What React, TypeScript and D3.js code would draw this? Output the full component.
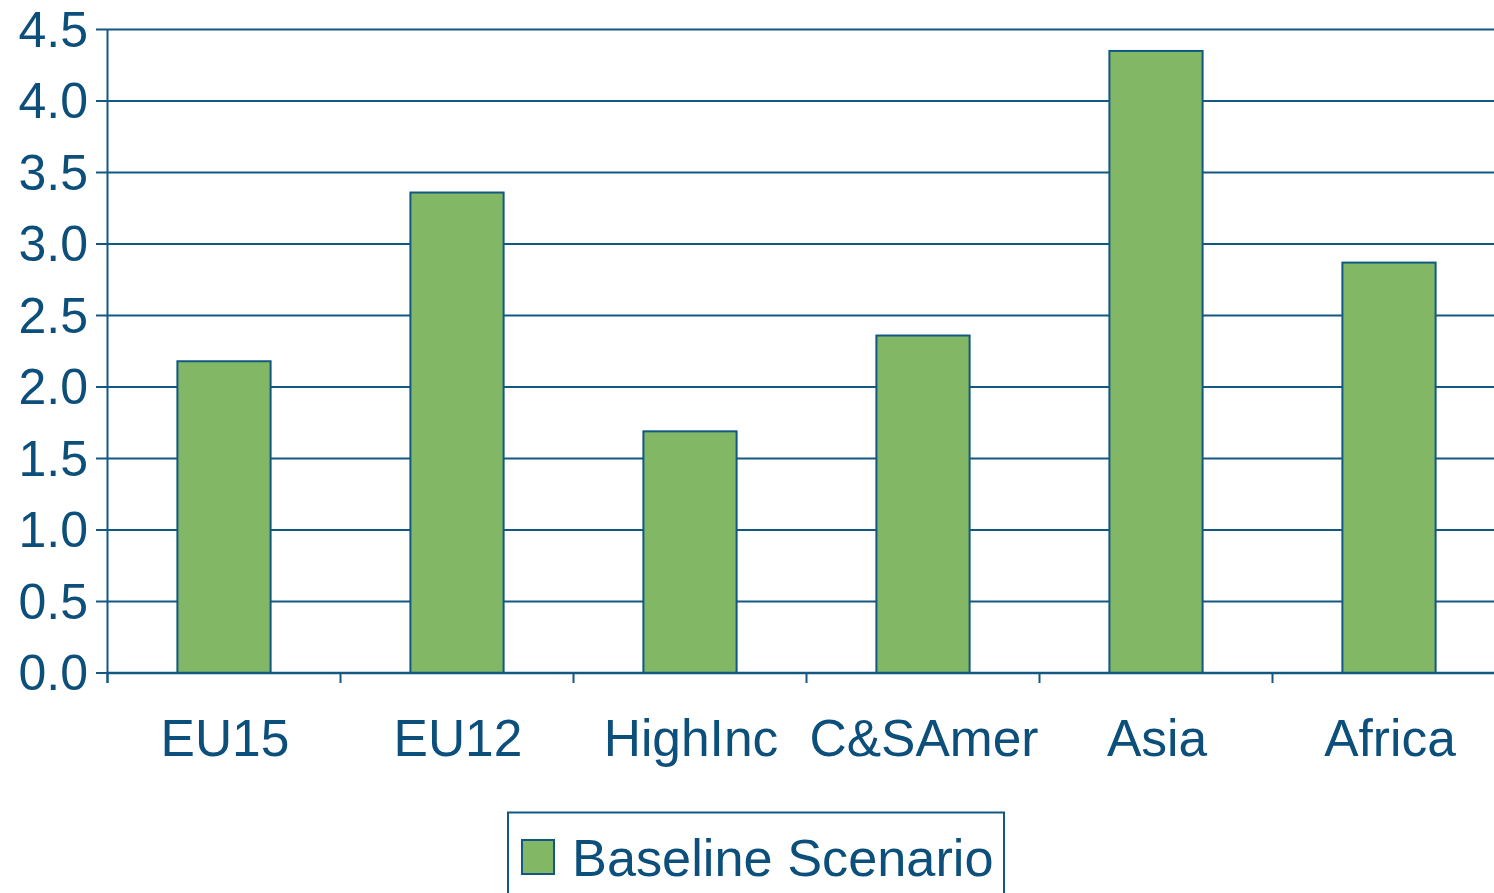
import React, { useEffect, useRef } from "react";
import * as d3 from "d3";

const categories = ["EU15", "EU12", "HighInc", "C&SAmer", "Asia", "Africa"];
const baselineValues = [2.18, 3.36, 1.69, 2.36, 4.35, 2.87];
const yTicks = [0, 0.5, 1, 1.5, 2, 2.5, 3, 3.5, 4, 4.5];
const seriesName = "Baseline Scenario";

const W = 1494;
const H = 893;
const TEXT = "#0c4f7b";
const LINE = "#125883";
const BAR = "#82b865";
const FONT = "'Liberation Sans', Arial, sans-serif";

export default function App() {
  const ref = useRef<SVGSVGElement>(null);
  useEffect(() => {
    const svg = d3.select(ref.current);
    svg.selectAll("*").remove();
    const x0 = 107.5;
    const x = d3.scaleBand<string>().domain(categories).range([x0, x0 + 233 * 6]).paddingInner(0).paddingOuter(0);
    const y = d3.scaleLinear().domain([0, 4.5]).range([673, 29.5]);

    // gridlines
    svg.append("g").selectAll("line").data(yTicks).join("line")
      .attr("x1", 96).attr("x2", W)
      .attr("y1", (d) => y(d)).attr("y2", (d) => y(d))
      .attr("stroke", LINE).attr("stroke-width", 2);

    // y labels
    svg.append("g").selectAll("text").data(yTicks).join("text")
      .attr("x", 88).attr("y", (d) => y(d))
      .attr("text-anchor", "end").attr("dominant-baseline", "central")
      .attr("font-family", FONT).attr("font-size", 50).attr("fill", TEXT)
      .text((d) => d.toFixed(1));

    // bars
    const bw = x.bandwidth() * 0.4;
    svg.append("g").selectAll("rect").data(categories).join("rect")
      .attr("x", (d) => x(d)! + x.bandwidth() / 2 - bw / 2)
      .attr("width", bw)
      .attr("y", (_, i) => y(baselineValues[i]))
      .attr("height", (_, i) => y(0) - y(baselineValues[i]))
      .attr("fill", BAR).attr("stroke", LINE).attr("stroke-width", 2);

    // y axis line
    svg.append("line").attr("x1", x0).attr("x2", x0).attr("y1", y(4.5)).attr("y2", y(0) + 10)
      .attr("stroke", LINE).attr("stroke-width", 2);
    // x axis line
    svg.append("line").attr("x1", x0).attr("x2", W).attr("y1", y(0)).attr("y2", y(0))
      .attr("stroke", LINE).attr("stroke-width", 2.5);
    // x ticks at band edges
    const edges = categories.map((c) => x(c)!).concat([x0 + 233 * 6]);
    svg.append("g").selectAll("line").data(edges).join("line")
      .attr("x1", (d) => d).attr("x2", (d) => d)
      .attr("y1", y(0)).attr("y2", y(0) + 10)
      .attr("stroke", LINE).attr("stroke-width", 2);

    // category labels
    svg.append("g").selectAll("text").data(categories).join("text")
      .attr("x", (d) => x(d)! + x.bandwidth() / 2 + 1).attr("y", 756)
      .attr("text-anchor", "middle")
      .attr("font-family", FONT).attr("font-size", 51.5).attr("fill", TEXT)
      .text((d) => d);

    // legend
    const lg = svg.append("g");
    lg.append("rect").attr("x", 508).attr("y", 812.5).attr("width", 496).attr("height", 100)
      .attr("fill", "white").attr("stroke", LINE).attr("stroke-width", 2);
    lg.append("rect").attr("x", 522).attr("y", 840).attr("width", 32).attr("height", 34)
      .attr("fill", BAR).attr("stroke", LINE).attr("stroke-width", 2);
    lg.append("text").attr("x", 572).attr("y", 876)
      .attr("font-family", FONT).attr("font-size", 52.3).attr("fill", TEXT)
      .text(seriesName);
  }, []);
  return (
    <svg ref={ref} width={W} height={H}
      style={{ position: "absolute", left: 0, top: 0, background: "white" }} />
  );
}
